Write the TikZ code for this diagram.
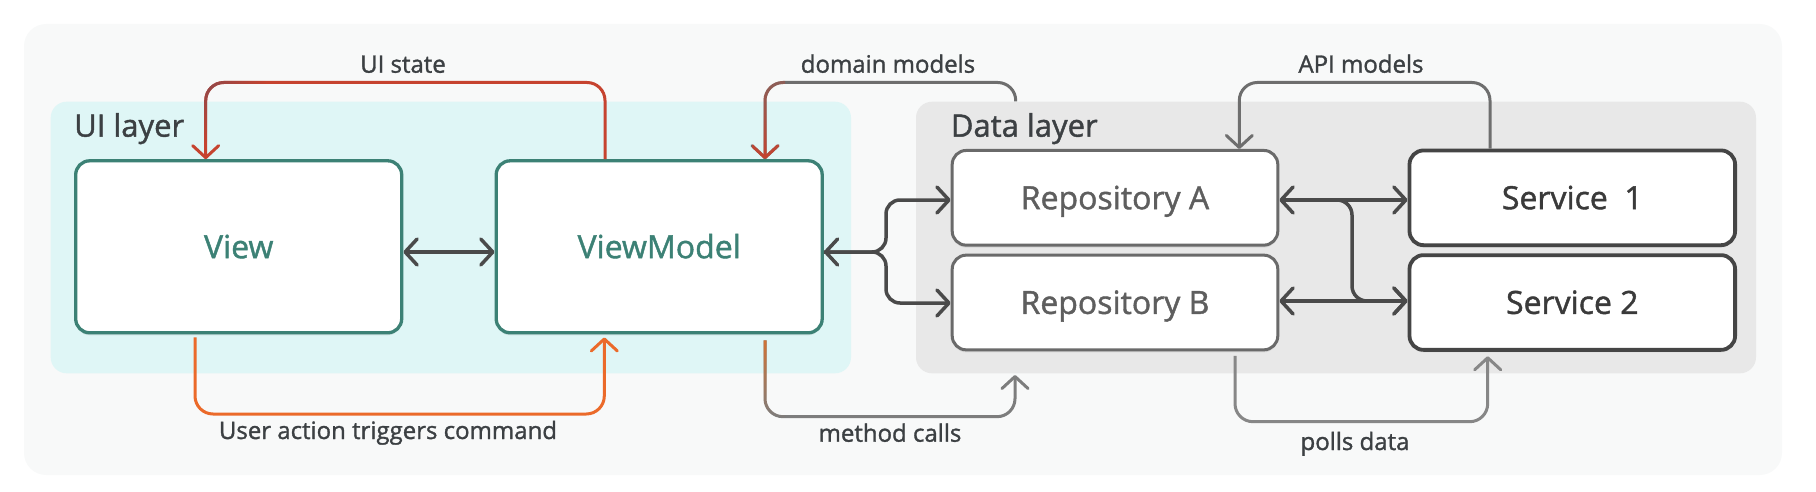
\documentclass[tikz,border=0pt]{standalone}
\usepackage{fontspec}
\setmainfont{Open Sans}[FakeBold=1.3]
\usetikzlibrary{arrows.meta,shadows,fadings}
\definecolor{bgc}{HTML}{F8F9F9}
\definecolor{uic}{HTML}{DFF6F6}
\definecolor{dlc}{HTML}{E8E8E8}
\definecolor{tealc}{HTML}{3C8175}
\definecolor{txtc}{HTML}{3C4043}
\definecolor{dkc}{HTML}{4A4A4A}
\definecolor{redc}{HTML}{C6432F}
\definecolor{brownc}{HTML}{92484A}
\definecolor{orc}{HTML}{EB6A2A}
\definecolor{gryc}{HTML}{6E6E6E}
\definecolor{mgryc}{HTML}{7D7D7D}
\definecolor{lgryc}{HTML}{878787}
\definecolor{repc}{HTML}{6A6A6A}
\definecolor{reptxt}{HTML}{5E5E5E}
\definecolor{svcc}{HTML}{454545}
\definecolor{svctxt}{HTML}{3A3A3A}
\definecolor{mcor}{HTML}{D8722F}
\tikzfading[name=fadeup, top color=transparent!65, bottom color=transparent!0]
\tikzfading[name=fadedown, top color=transparent!0, bottom color=transparent!100]
\tikzfading[name=cornerfade, inner color=transparent!0, outer color=transparent!100]
\begin{document}
\begin{tikzpicture}[x=1pt,y=-1pt,
  conn/.style={line width=3pt, rounded corners=18pt},
  arr/.style={-{Straight Barb[length=12pt,width=26pt,round]}},
  darr/.style={{Straight Barb[length=12pt,width=26pt,round]}-{Straight Barb[length=12pt,width=26pt,round]}},
  dkline/.style={dkc, line width=3.5pt},
  lab/.style={font=\fontsize{24}{29}\selectfont, text=txtc, anchor=base, inner sep=0pt},
  laytitle/.style={font=\fontsize{31}{37}\selectfont, text=txtc, anchor=base west, inner sep=0pt},
  laybox/.style={rounded corners=16pt, inner sep=0pt, minimum height=271.6pt},
  shd/.style={drop shadow={shadow xshift=0pt, shadow yshift=-2.5pt, opacity=0.16}},
  uibox/.style={draw=tealc, line width=3.3pt, fill=white, rounded corners=14pt, minimum width=326pt, minimum height=172pt, text=tealc, font=\fontsize{32}{38}\selectfont, inner sep=0pt, text height=22.8pt, text depth=0pt, shd},
  repbox/.style={draw=repc, line width=3pt, fill=white, rounded corners=14pt, minimum width=325.6pt, minimum height=94.7pt, text=reptxt, font=\fontsize{32}{38}\selectfont, inner sep=0pt, text height=22.8pt, text depth=0pt, shd},
  svcbox/.style={repbox, draw=svcc, line width=3.8pt, text=svctxt},
]
\useasboundingbox (0,0) rectangle (1816,492);
\node[fill=bgc, rounded corners=22pt, minimum width=1758pt, minimum height=451pt, inner sep=0pt] (bg) at (903,249.5) {};
\node[laybox, fill=uic, minimum width=800.3pt] (uil) at (450.85,237.5) {};
\node[laybox, fill=dlc, minimum width=840pt] (dl) at (1336,237.5) {};
\node[laytitle] (uilab) at (74,136.7) {UI layer};
\node[laytitle] (dllab) at (950.7,136.7) {Data layer};

\node[uibox] (view) at (238.7,246.8) {View};
\node[uibox] (vm) at (659.2,246.8) {ViewModel};
\node[repbox] (repA) at (1115,197.8) {Repository A};
\node[repbox] (repB) at (1115,302.5) {Repository B};
\node[svcbox] (s1) at (1572.3,197.8) {Service\ \ 1};
\node[svcbox] (s2) at (1572.3,302.5) {Service 2};

% dark connectors
\draw[dkline, darr] (view.east |- 0,252) -- (vm.west |- 0,252);
\draw[dkline, rounded corners=14pt, darr] (vm.east |- 0,252) -- (886,252) -- (886,200) -- (repA.west |- 0,200);
\draw[dkline, rounded corners=14pt, arr] (vm.east |- 0,252) -- (886,252) -- (886,303) -- (repB.west |- 0,303);
\draw[dkline, darr] (repA.east |- 0,200) -- (s1.west |- 0,200);
\draw[dkline, darr] (repB.east |- 0,301) -- (s2.west |- 0,301);
\coordinate (xs) at (1330,200);
\draw[dkline, rounded corners=15pt, arr] (xs) -- (1352,200) -- (1352,301) -- (s2.west |- 0,301);

% UI state
\draw[conn, redc, arr] (605,0 |- vm.north) -- (605,82.5) -- (205.7,82.5) -- (205.7,0 |- view.north);
\draw[conn, brownc, path fading=cornerfade] (145.7,22.5) (265.7,82.5) -- (205.7,82.5) -- (205.7,142.5);
% domain models
\draw[conn, gryc, arr] (1015.7,0 |- dl.north) -- (1015.7,82.5) -- (765,82.5) -- (765,0 |- vm.north);
\draw[conn, redc, arr, path fading=fadeup] (785,82.5) -- (765,82.5) -- (765,0 |- vm.north);
% API models
\draw[conn, gryc, arr] (1490,0 |- s1.north) -- (1490,82.5) -- (1239.3,82.5) -- (1239.3,0 |- repA.north);
% User action
\draw[conn, orc, arr, shorten <=3pt, shorten >=3pt] (195,0 |- view.south) -- (195,414) -- (604.3,414) -- (604.3,0 |- vm.south);
% method calls
\draw[conn, mgryc, arr, shorten <=6pt, shorten >=1.5pt] (765,0 |- vm.south) -- (765,416.7) -- (1015,416.7) -- (1015,0 |- dl.south);
\draw[conn, mcor, path fading=fadedown, shorten <=6pt] (765,0 |- vm.south) -- (765,416.7) -- (785,416.7);
% polls data
\draw[conn, lgryc, arr, shorten <=4.5pt, shorten >=4.5pt] (1235,0 |- repB.south) -- (1235,421.7) -- (1487.7,421.7) -- (1487.7,0 |- s2.south);

% labels
\node[lab] (l1) at (403,72.7) {UI state};
\node[lab] (l2) at (888,72.7) {domain models};
\node[lab] (l3) at (1361,72.7) {API models};
\node[lab] (l4) at (388,439) {User action triggers command};
\node[lab] (l5) at (890,441.7) {method calls};
\node[lab] (l6) at (1355,450) {polls data};
\end{tikzpicture}
\end{document}
